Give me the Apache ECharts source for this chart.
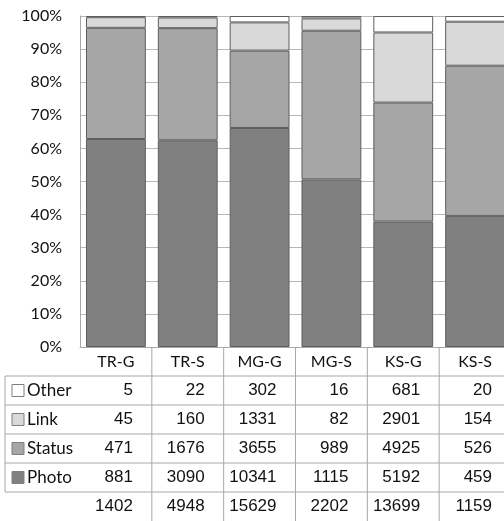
<!DOCTYPE html>
<html>
<head>
<meta charset="utf-8">
<style>
  html, body { margin: 0; padding: 0; background: #fff; }
  #chart { width: 504px; height: 521px; }
</style>
<script src="https://cdn.jsdelivr.net/npm/echarts@6/dist/echarts.min.js"></script>
</head>
<body>
<div id="chart"></div>
<script>
// Post counts per group and type
const categories = ['TR-G', 'TR-S', 'MG-G', 'MG-S', 'KS-G', 'KS-S'];
const photo  = [881, 3090, 10341, 1115, 5192, 459];
const status = [471, 1676, 3655, 989, 4925, 526];
const link   = [45, 160, 1331, 82, 2901, 154];
const other  = [5, 22, 302, 16, 681, 20];
const totals = [1402, 4948, 15629, 2202, 13699, 1159];
const yTickStep = 10; // percent

const seriesDefs = [
  { name: 'Photo',  values: photo,  color: '#808080' },
  { name: 'Status', values: status, color: '#a6a6a6' },
  { name: 'Link',   values: link,   color: '#d9d9d9' },
  { name: 'Other',  values: other,  color: '#ffffff' }
];
// rows of the data table, top to bottom
const tableRows = [seriesDefs[3], seriesDefs[2], seriesDefs[1], seriesDefs[0]];

const ROW_H = 29;
const LEGEND_COL_W = 75;
const LINE_COLOR = '#a8a8a8';
const NUM_FONT = '"Liberation Sans", Arial, sans-serif';
const TXT_FONT = 'Lato, "Open Sans", sans-serif';

const toPct = (arr) => arr.map((v, i) => v / totals[i] * 100);

const chart = echarts.init(document.getElementById('chart'), null, { renderer: 'canvas' });

function renderTable(params, api) {
  const idx = api.value(0);
  const base = api.coord([idx, 0]);
  const band = api.size([1, 0])[0];
  const xc = base[0];
  const y0 = base[1];
  const xl = xc - band / 2;
  const xr = xc + band / 2;
  const children = [];
  const nRows = tableRows.length + 2; // header + series rows + totals

  // right border of this column
  children.push({ type: 'line', shape: { x1: xr, y1: y0, x2: xr, y2: y0 + nRows * ROW_H },
    style: { stroke: LINE_COLOR, lineWidth: 1 } });
  // horizontal rules below header and each series row
  for (let r = 1; r <= tableRows.length + 1; r++) {
    const y = y0 + r * ROW_H;
    children.push({ type: 'line', shape: { x1: xl, y1: y, x2: xr, y2: y },
      style: { stroke: LINE_COLOR, lineWidth: 1 } });
  }
  // values
  const numRight = xr - 19;
  tableRows.forEach((row, r) => {
    children.push({ type: 'text', style: {
      text: String(row.values[idx]), x: numRight, y: y0 + (r + 1.5) * ROW_H,
      align: 'right', verticalAlign: 'middle',
      fontSize: 17, fontFamily: NUM_FONT, fill: '#111' } });
  });
  children.push({ type: 'text', style: {
    text: String(totals[idx]), x: numRight, y: y0 + (tableRows.length + 1.5) * ROW_H,
    align: 'right', verticalAlign: 'middle',
    fontSize: 17, fontFamily: NUM_FONT, fill: '#111' } });

  // legend column drawn once, left of the first column
  if (idx === 0) {
    const lx = xl - LEGEND_COL_W;
    const top = y0 + ROW_H;
    const bottom = y0 + (tableRows.length + 1) * ROW_H;
    children.push({ type: 'line', shape: { x1: lx, y1: top, x2: lx, y2: bottom },
      style: { stroke: LINE_COLOR, lineWidth: 1 } });
    for (let r = 1; r <= tableRows.length + 1; r++) {
      const y = y0 + r * ROW_H;
      children.push({ type: 'line', shape: { x1: lx, y1: y, x2: xl, y2: y },
        style: { stroke: LINE_COLOR, lineWidth: 1 } });
    }
    tableRows.forEach((row, r) => {
      const cy = y0 + (r + 1.5) * ROW_H;
      children.push({ type: 'rect', shape: { x: lx + 7, y: cy - 6, width: 12, height: 12 },
        style: { fill: row.color, stroke: '#7f7f7f', lineWidth: 1 } });
      children.push({ type: 'text', style: {
        text: row.name, x: lx + 22, y: cy, align: 'left', verticalAlign: 'middle',
        fontSize: 17, fontFamily: TXT_FONT, fill: '#111' } });
    });
  }
  return { type: 'group', children };
}

const option = {
  animation: false,
  backgroundColor: '#ffffff',
  grid: { left: 80, top: 16, width: 431, height: 331, outerBoundsMode: 'none', containLabel: false },
  xAxis: {
    type: 'category',
    data: categories,
    axisLine: { show: true, lineStyle: { color: LINE_COLOR, width: 1 } },
    axisTick: { show: false },
    splitLine: { show: false },
    axisLabel: {
      margin: 14.5, verticalAlign: 'middle',
      fontSize: 16, fontFamily: TXT_FONT, color: '#111'
    }
  },
  yAxis: {
    type: 'value',
    min: 0, max: 100, interval: yTickStep,
    axisLine: { show: true, lineStyle: { color: LINE_COLOR, width: 1 } },
    axisTick: { show: false },
    splitLine: { show: true, lineStyle: { color: '#b8b8b8', width: 1 } },
    axisLabel: {
      formatter: '{value}%', margin: 18,
      fontSize: 16, fontFamily: TXT_FONT, color: '#111'
    }
  },
  series: seriesDefs.map(s => ({
    name: s.name,
    type: 'bar',
    stack: 'total',
    barCategoryGap: '16.7%',
    data: toPct(s.values),
    itemStyle: { color: s.color, borderColor: '#5e5e5e', borderWidth: 1 },
    emphasis: { disabled: true }
  })).concat([{
    type: 'custom',
    name: 'table',
    renderItem: renderTable,
    clip: false,
    silent: true,
    encode: { x: 0, y: 1 },
    data: categories.map((c, i) => [i, 0]),
    z: 5
  }])
};

chart.setOption(option);
</script>
</body>
</html>
